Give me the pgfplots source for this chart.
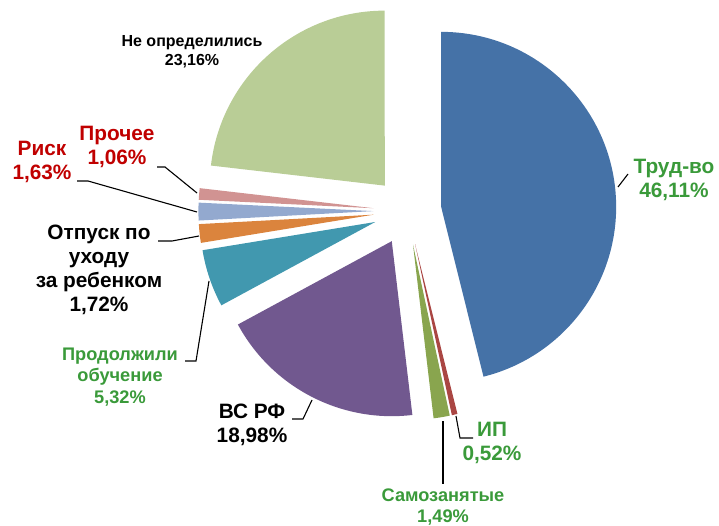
\documentclass[border=0pt]{standalone}
\usepackage{fontspec}
\setmainfont{Liberation Sans}
\usepackage{pgfplots}
\usepackage{pgfplotstable}
\pgfplotsset{compat=1.18}

\definecolor{cTrud}{HTML}{4572A7}
\definecolor{cIP}{HTML}{AA4643}
\definecolor{cSamo}{HTML}{89A54E}
\definecolor{cVS}{HTML}{71588F}
\definecolor{cProd}{HTML}{4198AF}
\definecolor{cOtp}{HTML}{DB843D}
\definecolor{cRisk}{HTML}{93A9CF}
\definecolor{cProch}{HTML}{D19392}
\definecolor{cNe}{HTML}{B9CD96}
\definecolor{lblgreen}{HTML}{3A9A3A}
\definecolor{lblred}{HTML}{C00000}

\pgfplotstableread[col sep=comma]{
key,value,color
Trud,46.11,cTrud
IP,0.52,cIP
Samo,1.49,cSamo
VS,18.98,cVS
Prod,5.32,cProd
Otp,1.72,cOtp
Risk,1.63,cRisk
Proch,1.06,cProch
Ne,23.16,cNe
}\piedata

\newcommand{\lblbig}{\bfseries\fontsize{20.8}{24}\selectfont}
\newcommand{\lblmid}{\bfseries\fontsize{18.2}{21.5}\selectfont}
\newcommand{\lblsmall}{\bfseries\fontsize{16}{19}\selectfont}

\begin{document}
\begin{tikzpicture}
\begin{axis}[
  scale only axis, width=719pt, height=526pt,
  xmin=0, xmax=719, ymin=0, ymax=526, y dir=reverse,
  hide axis, clip=false]
\def\cum{0}
\pgfplotsforeachungrouped \i in {0,...,8}{%
  \pgfplotstablegetelem{\i}{value}\of\piedata \let\sv=\pgfplotsretval
  \pgfplotstablegetelem{\i}{color}\of\piedata \let\sc=\pgfplotsretval
  \pgfmathsetmacro\aS{90-3.6*\cum}%
  \pgfmathsetmacro\cum{\cum+\sv}%
  \pgfmathsetmacro\aE{90-3.6*\cum}%
  \pgfmathsetmacro\aM{(\aS+\aE)/2}%
  \pgfmathsetmacro\px{407.4+34*cos(\aM)}%
  \pgfmathsetmacro\py{211-34*sin(\aM)}%
  \edef\temp{\noexpand\fill[\sc] (axis cs:\px,\py) -- ++(\aS:175pt) arc[start angle=\aS, end angle=\aE, radius=175pt] -- cycle;}%
  \temp
}
% leader lines
\draw[line width=1.1pt] (axis cs:618,187) -- (axis cs:628,174);
\draw[line width=1.1pt] (axis cs:456,416) -- (axis cs:460,438) -- (axis cs:473,438);
\draw[line width=1.1pt] (axis cs:443,421) -- (axis cs:443,484);
\draw[line width=1.1pt] (axis cs:312,400) -- (axis cs:303,419) -- (axis cs:292,419);
\draw[line width=1.1pt] (axis cs:209,281) -- (axis cs:196,361) -- (axis cs:185,361);
\draw[line width=1.1pt] (axis cs:158,241) -- (axis cs:172,241) -- (axis cs:199,236);
\draw[line width=1.1pt] (axis cs:77,181) -- (axis cs:88,181) -- (axis cs:197,212);
\draw[line width=1.1pt] (axis cs:157,167) -- (axis cs:165,167) -- (axis cs:197,193);
% labels
\node[align=center, text=lblgreen, font=\lblbig] at (axis cs:674,180) {Труд-во\\46,11\%};
\node[align=center, text=lblgreen, font=\lblbig] at (axis cs:492,443) {ИП\\0,52\%};
\node[align=center, text=lblgreen, font=\lblmid] at (axis cs:443,507) {Самозанятые\\1,49\%};
\node[align=center, text=black, font=\lblbig] at (axis cs:252,425) {ВС РФ\\18,98\%};
\node[align=center, text=lblgreen, font=\lblmid] at (axis cs:120,377) {Продолжили\\обучение\\5,32\%};
\node[align=center, text=black, font=\lblbig] at (axis cs:99,270) {Отпуск по\\уходу\\за ребенком\\1,72\%};
\node[align=center, text=lblred, font=\lblbig] at (axis cs:42,162) {Риск\\1,63\%};
\node[align=center, text=lblred, font=\lblbig] at (axis cs:117,147) {Прочее\\1,06\%};
\node[align=center, text=black, font=\lblsmall] at (axis cs:192,52) {Не определились\\23,16\%};
\end{axis}
\pgfresetboundingbox
\path (0,0) rectangle (719pt,526pt);
\end{tikzpicture}
\end{document}
